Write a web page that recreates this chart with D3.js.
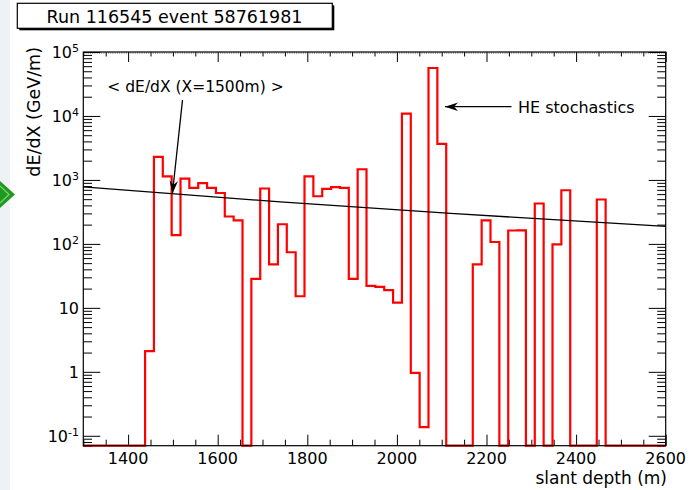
<!DOCTYPE html>
<html>
<head>
<meta charset="utf-8">
<script src="https://cdn.jsdelivr.net/npm/d3@7"></script>
<style>
  body { margin: 0; background: #fff; }
  svg { display: block; }
  text { font-family: "DejaVu Sans", sans-serif; fill: #000; }
</style>
</head>
<body>
<svg id="chart" width="697" height="490"></svg>
<script>
// ---- data -------------------------------------------------------------
const runTitle = "Run 116545 event 58761981";
const xTitle = "slant depth (m)";
const yTitle = "dE/dX (GeV/m)";

// histogram binning (slant depth, m)
const binStart = 1437.9;
const binWidth = 19.77;
// energy loss per bin (GeV/m); 0 = empty bin
const dEdX = [
  2.1, 2290, 1140, 137, 1050, 750, 890, 750, 625, 268,
  234, 0, 28.4, 735, 48, 203, 74, 15.2, 1140, 556,
  723, 770, 750, 28.4, 1470, 22.1, 21.3, 18.9, 12.1, 10900,
  0.96, 0.137, 56200, 3650, 0, 0, 0, 48, 234, 107,
  0, 162, 163, 0, 428, 0, 98, 690, 0, 0,
  0, 494
];

// average energy-loss fit
const fitDepth = [1300, 1740, 2120, 2600];
const fitValue = [778, 453, 299, 188];

const xDomain = [1300, 2600];
const yDomain = [0.07, 1e5];
const xMajorTicks = [1400, 1600, 1800, 2000, 2200, 2400, 2600];
const yDecades = [0.1, 1, 10, 100, 1000, 10000, 100000];
const yDecadeLabels = [["10", "-1"], ["1", ""], ["10", ""], ["10", "2"], ["10", "3"], ["10", "4"], ["10", "5"]];

const meanLabel = "< dE/dX (X=1500m) >";
const meanDepth = 1500;
const stochLabel = "HE stochastics";

// ---- layout -----------------------------------------------------------
const frame = { left: 83.3, right: 665.7, top: 52, bottom: 445.7 };
const svg = d3.select("#chart");

// side strip + marker at the window edge
svg.append("rect").attr("x", 0).attr("y", 0).attr("width", 10).attr("height", 490).attr("fill", "#eef2f7");
svg.append("path").attr("d", "M0,181 L15,194.5 L0,208 Z").attr("fill", "#1f9a1f");
svg.append("path").attr("d", "M0,186 L9,194.5 L0,203").attr("fill", "none").attr("stroke", "#7cd17c").attr("stroke-width", 1.2);

const x = d3.scaleLinear().domain(xDomain).range([frame.left, frame.right]);
const y = d3.scaleLog().domain(yDomain).range([frame.bottom, frame.top]);

// ---- title box --------------------------------------------------------
svg.append("rect").attr("x", 19.3).attr("y", 5.3).attr("width", 315).attr("height", 25).attr("fill", "#000");
svg.append("rect").attr("x", 17.3).attr("y", 3.3).attr("width", 315).attr("height", 25)
  .attr("fill", "#fff").attr("stroke", "#000").attr("stroke-width", 1.2);
svg.append("text").attr("x", 174.5).attr("y", 22.5).attr("text-anchor", "middle")
  .style("font-size", "17.5px").text(runTitle);

// ---- axes / ticks -----------------------------------------------------
const gx = svg.append("g");
function tickAxis(axis, tx, ty, sw, color) {
  const g = gx.append("g").attr("transform", `translate(${tx},${ty})`).call(axis);
  g.select(".domain").remove();
  g.selectAll("line").attr("stroke", color || "#000").attr("stroke-width", sw || 1);
  g.selectAll("text").remove();
  return g;
}
const xMinor = d3.range(1300, 2601, 50).filter(v => v % 200 !== 0);
const xTiny = d3.range(1300, 2601, 5).filter(v => v % 50 !== 0);

// bottom
tickAxis(d3.axisBottom(x).tickValues(xMajorTicks).tickSize(-11), 0, frame.bottom);
tickAxis(d3.axisBottom(x).tickValues(xMinor).tickSize(-6), 0, frame.bottom);
// top
tickAxis(d3.axisTop(x).tickValues(xMajorTicks).tickSize(-10), 0, frame.top);
tickAxis(d3.axisTop(x).tickValues(xMinor).tickSize(-4.5), 0, frame.top);
tickAxis(d3.axisTop(x).tickValues(xTiny).tickSize(-2), 0, frame.top, 0.8, "#8a8a8a");

// log minor ticks 2..9 per decade
const yMinor = [];
for (let e = -2; e <= 4; e++) for (let m = 2; m <= 9; m++) {
  const v = m * Math.pow(10, e);
  if (v >= yDomain[0] && v <= yDomain[1]) yMinor.push(v);
}
tickAxis(d3.axisLeft(y).tickValues(yDecades).tickSize(-17), frame.left, 0);
tickAxis(d3.axisLeft(y).tickValues(yMinor).tickSize(-8.7), frame.left, 0);
tickAxis(d3.axisRight(y).tickValues(yDecades).tickSize(-17), frame.right, 0);
tickAxis(d3.axisRight(y).tickValues(yMinor).tickSize(-8.5), frame.right, 0);

// x tick labels
svg.append("g").selectAll("text").data(xMajorTicks).join("text")
  .attr("x", d => x(d)).attr("y", 464).attr("text-anchor", "middle")
  .style("font-size", "16px").text(d => d);

// y tick labels with superscript exponents
const yl = svg.append("g").selectAll("text").data(yDecades).join("text")
  .attr("x", 79).attr("y", d => y(d)).attr("dy", "0.36em").attr("text-anchor", "end")
  .style("font-size", "16px");
yl.each(function (d, i) {
  const t = d3.select(this);
  const [base, exp] = yDecadeLabels[i];
  t.append("tspan").text(base);
  if (exp) t.append("tspan").attr("dy", "-0.5em").style("font-size", "11px").text(exp);
});

// axis titles
svg.append("text").attr("x", 667).attr("y", 484).attr("text-anchor", "end")
  .style("font-size", "17px").text(xTitle);
svg.append("text").attr("transform", "translate(40,47) rotate(-90)").attr("text-anchor", "end")
  .style("font-size", "17.5px").text(yTitle);

// ---- histogram --------------------------------------------------------
const yBase = frame.bottom;
const binEdge = i => x(binStart + i * binWidth);
const steps = [[x(xDomain[0]), yBase], [binEdge(0), yBase]];
dEdX.forEach((v, i) => {
  const yy = v > 0 ? y(v) : yBase;
  steps.push([binEdge(i), yy], [binEdge(i + 1), yy]);
});
steps.push([binEdge(dEdX.length), yBase], [x(xDomain[1]), yBase]);
svg.append("path").attr("d", d3.line()(steps))
  .attr("fill", "none").attr("stroke", "#ff0000").attr("stroke-width", 2.2)
  .attr("stroke-linejoin", "miter");

// frame
svg.append("rect").attr("x", frame.left).attr("y", frame.top)
  .attr("width", frame.right - frame.left).attr("height", frame.bottom - frame.top)
  .attr("fill", "none").attr("stroke", "#000").attr("stroke-width", 1.2);

// ---- fit line ---------------------------------------------------------
const fitLine = d3.line().x(d => x(d[0])).y(d => y(d[1]));
svg.append("path").attr("d", fitLine(fitDepth.map((d, i) => [d, fitValue[i]])))
  .attr("fill", "none").attr("stroke", "#000").attr("stroke-width", 1.3);

// ---- annotations ------------------------------------------------------
function arrow(x1, y1, x2, y2) {
  svg.append("line").attr("x1", x1).attr("y1", y1).attr("x2", x2).attr("y2", y2)
    .attr("stroke", "#000").attr("stroke-width", 1.3);
  const a = Math.atan2(y2 - y1, x2 - x1), L = 13, W = 4.2;
  const bx = x2 - L * Math.cos(a), by = y2 - L * Math.sin(a);
  const px = -Math.sin(a), py = Math.cos(a);
  const mx = x2 - 0.7 * L * Math.cos(a), my = y2 - 0.7 * L * Math.sin(a);
  svg.append("path").attr("d",
    `M${x2},${y2} L${bx + W * px},${by + W * py} L${mx},${my} L${bx - W * px},${by - W * py} Z`)
    .attr("fill", "#000");
}
const meanY = y(fitValue[0] * Math.pow(fitValue[1] / fitValue[0], (meanDepth - fitDepth[0]) / (fitDepth[1] - fitDepth[0])));
svg.append("text").attr("x", 195.5).attr("y", 91.5).attr("text-anchor", "middle")
  .style("font-size", "15.5px").text(meanLabel);
arrow(182.5, 100, x(meanDepth) - 0.5, meanY);

svg.append("text").attr("x", 518).attr("y", 113).style("font-size", "16px").text(stochLabel);
arrow(511.5, 106.7, 445, 106.7);
</script>
</body>
</html>
